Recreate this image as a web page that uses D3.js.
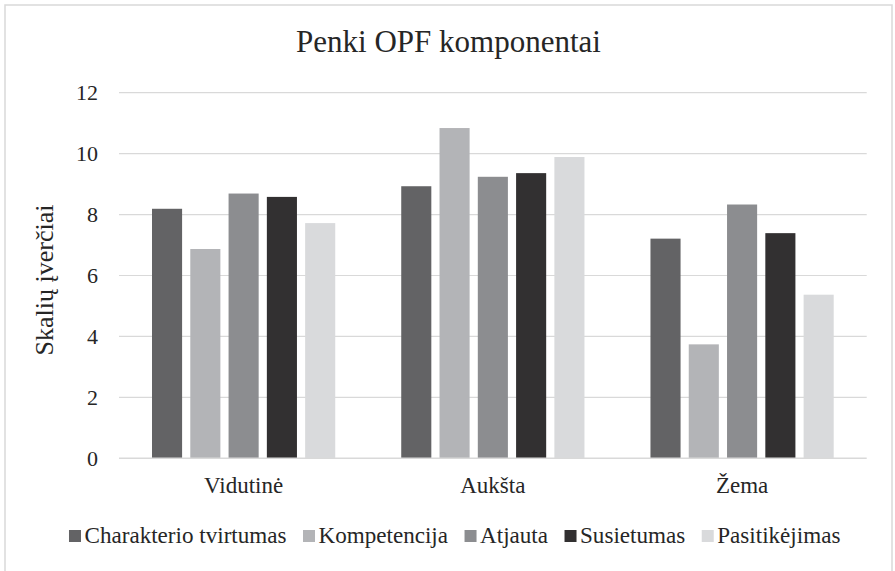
<html>
<head>
  <title></title>
  <script src="https://d3js.org/d3.v7.min.js"></script>
  <style type="text/css">
    body{margin:0;background:#fff;}
  </style>
</head>
<body>
<div id='graph-container'></div>
<script type="text/javascript">

// data
var groups = ['Vidutinė', 'Aukšta', 'Žema']
var seriesNames = ['Charakterio tvirtumas', 'Kompetencija', 'Atjauta', 'Susietumas', 'Pasitikėjimas']
var seriesColors = ['#636365', '#b3b4b7', '#8c8d90', '#323031', '#d9dadc']
var charakterio = [8.19, 8.93, 7.21]
var kompetencija = [6.87, 10.84, 3.74]
var atjauta = [8.69, 9.24, 8.33]
var susietumas = [8.58, 9.36, 7.39]
var pasitikejimas = [7.72, 9.89, 5.37]
var yTicks = [0, 2, 4, 6, 8, 10, 12]

var seriesValues = [charakterio, kompetencija, atjauta, susietumas, pasitikejimas]

var width = 895, height = 571
var margin = {top: 92.7, right: 28.3, bottom: 112.7, left: 119}

var svg = d3.select('#graph-container').append('svg')
  .attr('width', width)
  .attr('height', height)
  .attr('font-family', "'Liberation Serif', 'Times New Roman', Times, serif")
  .attr('fill', '#262626')

// chart frame
svg.append('rect')
  .attr('x', 5).attr('y', 5)
  .attr('width', 887).attr('height', 570)
  .attr('fill', '#fff')
  .attr('stroke', '#d9d9d9')
  .attr('stroke-width', 1.5)

var xScale = d3.scaleBand()
  .domain(groups)
  .range([margin.left, width - margin.right])

var xInner = d3.scaleBand()
  .domain(d3.range(seriesNames.length))
  .range([33, xScale.bandwidth() - 33])
  .paddingInner(0.214)

var yScale = d3.scaleLinear()
  .domain([0, 12])
  .range([height - margin.bottom, margin.top])

// gridlines
svg.append('g')
  .selectAll('line')
  .data(yTicks.slice(1))
  .join('line')
  .attr('x1', margin.left)
  .attr('x2', width - margin.right)
  .attr('y1', d => yScale(d))
  .attr('y2', d => yScale(d))
  .attr('stroke', '#d9d9d9')
  .attr('stroke-width', 1.2)

// y tick labels
svg.append('g')
  .selectAll('text')
  .data(yTicks)
  .join('text')
  .attr('x', 98)
  .attr('y', d => yScale(d))
  .attr('dy', '0.34em')
  .attr('text-anchor', 'end')
  .attr('font-size', 22)
  .text(d => d)

// bars
seriesValues.forEach((vals, si) => {
  svg.append('g')
    .selectAll('rect')
    .data(vals)
    .join('rect')
    .attr('x', (d, i) => xScale(groups[i]) + xInner(si))
    .attr('width', xInner.bandwidth())
    .attr('y', d => yScale(d))
    .attr('height', d => yScale(0) - yScale(d))
    .attr('fill', seriesColors[si])
})

// baseline
svg.append('line')
  .attr('x1', margin.left)
  .attr('x2', width - margin.right)
  .attr('y1', yScale(0))
  .attr('y2', yScale(0))
  .attr('stroke', '#d9d9d9')
  .attr('stroke-width', 1.5)

// category labels
svg.append('g')
  .selectAll('text')
  .data(groups)
  .join('text')
  .attr('x', d => xScale(d) + xScale.bandwidth() / 2)
  .attr('y', 493)
  .attr('text-anchor', 'middle')
  .attr('font-size', 23)
  .text(d => d)

// title
svg.append('text')
  .attr('x', 448.5)
  .attr('y', 52)
  .attr('text-anchor', 'middle')
  .attr('font-size', 31)
  .text('Penki OPF komponentai')

// y axis title
svg.append('text')
  .attr('transform', 'translate(53,280) rotate(-90)')
  .attr('text-anchor', 'middle')
  .attr('font-size', 26)
  .text('Skalių įverčiai')

// legend
var legend = svg.append('g')
var lx = 0
seriesNames.forEach((name, i) => {
  var item = legend.append('g').attr('transform', `translate(${lx},0)`)
  item.append('rect')
    .attr('x', 0).attr('y', -13)
    .attr('width', 12).attr('height', 12)
    .attr('fill', seriesColors[i])
  var t = item.append('text')
    .attr('x', 15.5)
    .attr('y', 0)
    .attr('font-size', 23.1)
    .text(name)
  lx += 15.5 + t.node().getComputedTextLength() + 16.5
})
lx -= 16.5
legend.attr('transform', `translate(${454.7 - lx / 2},543)`)

</script>
</body>
</html>
